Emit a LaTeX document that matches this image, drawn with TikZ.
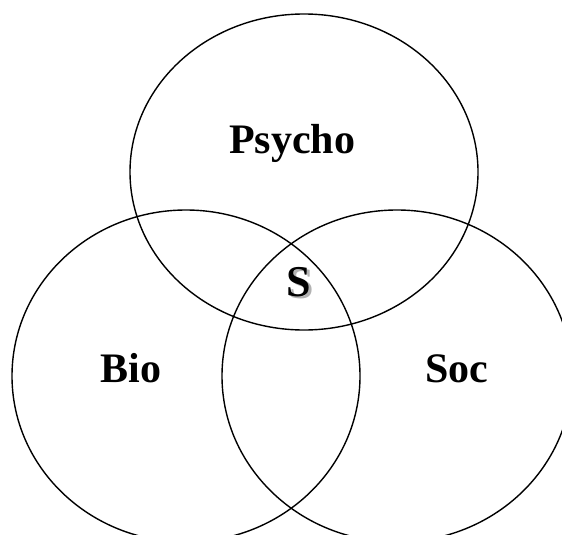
\documentclass[tikz,border=0pt]{standalone}
\usepackage{fontspec}
\setmainfont{Liberation Serif}
\newcommand{\shadowS}[1]{\makebox[0pt][l]{\hspace{2.5pt}\raisebox{-2.5pt}{\color{black!30}#1}}#1}
\tikzset{
  ring/.style={line width=1.4pt},
  label/.style={anchor=base, inner sep=0pt, font=\fontsize{42}{42}\selectfont\bfseries},
}
\begin{document}
\begin{tikzpicture}[x=1pt,y=-1pt]
\useasboundingbox (0,0) rectangle (562,535);
\clip (0,0) rectangle (562,535);
% three sets
\draw[ring] (304,172) ellipse [x radius=174pt, y radius=158pt];
\draw[ring] (186,376) ellipse [x radius=174pt, y radius=166pt];
\draw[ring] (397,376) ellipse [x radius=175pt, y radius=166pt];
% labels
\node[label] (psycho) at (292,153) {Psycho};
\node[label] (bio) at (131,382) {Bio};
\node[label] (soc) at (457,382) {Soc};
\node[label, font=\fontsize{44}{44}\selectfont\bfseries] (s) at (299,296) {\shadowS{S}};
\end{tikzpicture}
\end{document}
